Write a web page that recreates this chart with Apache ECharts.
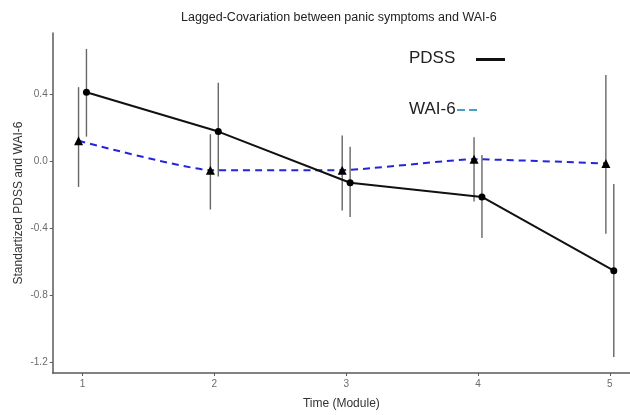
<!DOCTYPE html>
<html>
<head>
<meta charset="utf-8">
<script src="https://cdn.jsdelivr.net/npm/echarts@6/dist/echarts.min.js"></script>
<style>html,body{margin:0;padding:0;background:#fff}#c{width:630px;height:415px}</style>
</head>
<body>
<div id="c"></div>
<script>
// ---- data ----
const modules = [1, 2, 3, 4, 5];
const xTicks = [1, 2, 3, 4, 5];
const yTicks = [-1.2, -0.8, -0.4, 0.0, 0.4];
const pdssMean = [0.41, 0.175, -0.13, -0.215, -0.655];
const pdssLow  = [0.145, -0.093, -0.335, -0.46, -1.17];
const pdssHigh = [0.668, 0.466, 0.085, 0.036, -0.137];
const waiMean  = [0.12, -0.055, -0.055, 0.01, -0.015];
const waiLow   = [-0.155, -0.29, -0.296, -0.242, -0.435];
const waiHigh  = [0.44, 0.159, 0.151, 0.141, 0.513];
const dodge = 0.03;

const font = '"Liberation Sans", Arial, sans-serif';
const chart = echarts.init(document.getElementById('c'), null, {renderer: 'canvas'});

function errSeries(offset, low, high) {
  return {
    type: 'custom',
    z: 1,
    silent: true,
    data: modules.map((m, i) => [m + offset, low[i], high[i]]),
    encode: {x: 0, y: [1, 2]},
    renderItem: function (params, api) {
      const x = api.value(0);
      const p1 = api.coord([x, api.value(1)]);
      const p2 = api.coord([x, api.value(2)]);
      return {
        type: 'line',
        shape: {x1: p1[0], y1: p1[1], x2: p2[0], y2: p2[1]},
        style: {stroke: '#666', lineWidth: 1.4}
      };
    }
  };
}

chart.setOption({
  animation: false,
  backgroundColor: '#fff',
  grid: {left: 52.7, right: 0, top: 33, bottom: 41, containLabel: false},
  xAxis: {
    type: 'value',
    min: 0.774, max: 5.153,
    name: 'Time (Module)', nameLocation: 'middle', nameGap: 25,
    nameTextStyle: {fontFamily: font, fontSize: 12, color: '#333'},
    axisLine: {show: true, onZero: false, lineStyle: {color: '#5a5a5a', width: 1.5}},
    axisTick: {show: true, length: 3, lineStyle: {color: '#5a5a5a'}, customValues: xTicks},
    axisLabel: {fontFamily: font, fontSize: 10, color: '#6b6b6b', margin: 6, customValues: xTicks,
      formatter: v => String(Math.round(v))},
    splitLine: {show: false}
  },
  yAxis: {
    type: 'value',
    min: -1.265, max: 0.763,
    name: 'Standartized PDSS and WAI-6', nameLocation: 'middle', nameGap: 28,
    nameMoveOverlap: false,
    nameTextStyle: {fontFamily: font, fontSize: 12, color: '#333'},
    axisLine: {show: true, onZero: false, lineStyle: {color: '#5a5a5a', width: 1.5}},
    axisTick: {show: true, length: 3, lineStyle: {color: '#5a5a5a'}, customValues: yTicks},
    axisLabel: {fontFamily: font, fontSize: 10, color: '#6b6b6b', margin: 5, customValues: yTicks,
      formatter: v => v.toFixed(1)},
    splitLine: {show: false}
  },
  graphic: [
    {type: 'text', left: 341 - 160, top: 11, z: 10,
      style: {text: 'Lagged-Covariation between panic symptoms and WAI-6', x: 0, y: 0,
        width: 320, align: 'center', fontFamily: font, fontSize: 12.5, fill: '#222'}},
    {type: 'text', z: 10, x: 409, y: 50,
      style: {text: 'PDSS', fontFamily: font, fontSize: 17, fill: '#222'}},
    {type: 'line', z: 10, shape: {x1: 476, y1: 59.5, x2: 505, y2: 59.5},
      style: {stroke: '#111', lineWidth: 3}},
    {type: 'text', z: 10, x: 409, y: 101,
      style: {text: 'WAI-6', fontFamily: font, fontSize: 17, fill: '#222'}},
    {type: 'line', z: 10, shape: {x1: 457, y1: 110, x2: 480, y2: 110},
      style: {stroke: '#4a9fc0', lineWidth: 2, lineDash: [8, 4]}}
  ],
  series: [
    errSeries(-dodge, waiLow, waiHigh),
    errSeries(dodge, pdssLow, pdssHigh),
    {
      type: 'line', name: 'WAI-6', z: 3,
      data: modules.map((m, i) => [m - dodge, waiMean[i]]),
      symbol: 'triangle', symbolSize: 9,
      itemStyle: {color: '#000'},
      lineStyle: {color: '#2424dd', width: 2, type: [7, 5]},
      smooth: 0.15
    },
    {
      type: 'line', name: 'PDSS', z: 4,
      data: modules.map((m, i) => [m + dodge, pdssMean[i]]),
      symbol: 'circle', symbolSize: 7,
      itemStyle: {color: '#000'},
      lineStyle: {color: '#111', width: 2}
    }
  ]
});
</script>
</body>
</html>
